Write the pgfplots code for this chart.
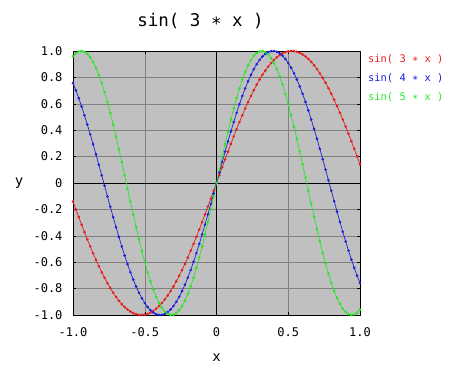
\documentclass[border=0pt]{standalone}
\usepackage{pgfplots}
\pgfplotsset{compat=1.18}
\usepackage{pgfplotstable}
\usepackage{fontspec}
\setmainfont{DejaVu Sans Mono}
\definecolor{bggray}{RGB}{192,192,192}
\definecolor{cred}{RGB}{230,30,30}
\definecolor{cblue}{RGB}{30,30,220}
\definecolor{cgreen}{RGB}{40,230,40}
\pgfplotstableread{
x a b c
-1.00 -0.1411 0.7568 0.9589
-0.98 -0.2002 0.7025 0.9825
-0.96 -0.2586 0.6433 0.9962
-0.94 -0.3161 0.5798 0.9999
-0.92 -0.3724 0.5128 0.9937
-0.90 -0.4274 0.4425 0.9775
-0.88 -0.4809 0.3694 0.9516
-0.86 -0.5325 0.2940 0.9162
-0.84 -0.5823 0.2167 0.8716
-0.82 -0.6300 0.1380 0.8183
-0.80 -0.6755 0.0584 0.7568
-0.78 -0.7185 -0.0216 0.6878
-0.76 -0.7589 -0.1016 0.6119
-0.74 -0.7964 -0.1807 0.5298
-0.72 -0.8312 -0.2586 0.4425
-0.70 -0.8632 -0.3350 0.3508
-0.68 -0.8920 -0.4092 0.2555
-0.66 -0.9174 -0.4809 0.1577
-0.64 -0.9396 -0.5494 0.0584
-0.62 -0.9585 -0.6145 -0.0416
-0.60 -0.9738 -0.6755 -0.1411
-0.58 -0.9857 -0.7322 -0.2392
-0.56 -0.9940 -0.7843 -0.3350
-0.54 -0.9988 -0.8312 -0.4274
-0.52 -0.9999 -0.8731 -0.5155
-0.50 -0.9975 -0.9093 -0.5985
-0.48 -0.9915 -0.9396 -0.6755
-0.46 -0.9819 -0.9640 -0.7457
-0.44 -0.9687 -0.9821 -0.8085
-0.42 -0.9521 -0.9940 -0.8632
-0.40 -0.9320 -0.9996 -0.9093
-0.38 -0.9086 -0.9987 -0.9463
-0.36 -0.8820 -0.9915 -0.9738
-0.34 -0.8521 -0.9779 -0.9917
-0.32 -0.8192 -0.9580 -0.9996
-0.30 -0.7833 -0.9320 -0.9975
-0.28 -0.7446 -0.9001 -0.9854
-0.26 -0.7033 -0.8624 -0.9636
-0.24 -0.6594 -0.8192 -0.9320
-0.22 -0.6131 -0.7707 -0.8912
-0.20 -0.5646 -0.7174 -0.8415
-0.18 -0.5141 -0.6594 -0.7833
-0.16 -0.4618 -0.5972 -0.7174
-0.14 -0.4078 -0.5312 -0.6442
-0.12 -0.3523 -0.4618 -0.5646
-0.10 -0.2955 -0.3894 -0.4794
-0.08 -0.2377 -0.3146 -0.3894
-0.06 -0.1790 -0.2377 -0.2955
-0.04 -0.1197 -0.1593 -0.1987
-0.02 -0.0600 -0.0799 -0.0998
0.00 0.0000 0.0000 0.0000
0.02 0.0600 0.0799 0.0998
0.04 0.1197 0.1593 0.1987
0.06 0.1790 0.2377 0.2955
0.08 0.2377 0.3146 0.3894
0.10 0.2955 0.3894 0.4794
0.12 0.3523 0.4618 0.5646
0.14 0.4078 0.5312 0.6442
0.16 0.4618 0.5972 0.7174
0.18 0.5141 0.6594 0.7833
0.20 0.5646 0.7174 0.8415
0.22 0.6131 0.7707 0.8912
0.24 0.6594 0.8192 0.9320
0.26 0.7033 0.8624 0.9636
0.28 0.7446 0.9001 0.9854
0.30 0.7833 0.9320 0.9975
0.32 0.8192 0.9580 0.9996
0.34 0.8521 0.9779 0.9917
0.36 0.8820 0.9915 0.9738
0.38 0.9086 0.9987 0.9463
0.40 0.9320 0.9996 0.9093
0.42 0.9521 0.9940 0.8632
0.44 0.9687 0.9821 0.8085
0.46 0.9819 0.9640 0.7457
0.48 0.9915 0.9396 0.6755
0.50 0.9975 0.9093 0.5985
0.52 0.9999 0.8731 0.5155
0.54 0.9988 0.8312 0.4274
0.56 0.9940 0.7843 0.3350
0.58 0.9857 0.7322 0.2392
0.60 0.9738 0.6755 0.1411
0.62 0.9585 0.6145 0.0416
0.64 0.9396 0.5494 -0.0584
0.66 0.9174 0.4809 -0.1577
0.68 0.8920 0.4092 -0.2555
0.70 0.8632 0.3350 -0.3508
0.72 0.8312 0.2586 -0.4425
0.74 0.7964 0.1807 -0.5298
0.76 0.7589 0.1016 -0.6119
0.78 0.7185 0.0216 -0.6878
0.80 0.6755 -0.0584 -0.7568
0.82 0.6300 -0.1380 -0.8183
0.84 0.5823 -0.2167 -0.8716
0.86 0.5325 -0.2940 -0.9162
0.88 0.4809 -0.3694 -0.9516
0.90 0.4274 -0.4425 -0.9775
0.92 0.3724 -0.5128 -0.9937
0.94 0.3161 -0.5798 -0.9999
0.96 0.2586 -0.6433 -0.9962
0.98 0.2002 -0.7025 -0.9825
1.00 0.1411 -0.7568 -0.9589
}\data
\begin{document}
\begin{tikzpicture}[x=1pt,y=1pt]
\useasboundingbox (0,0) rectangle (450,380);
\begin{axis}[
  at={(73pt,65pt)}, anchor=south west,
  scale only axis, width=287pt, height=264pt,
  xmin=-1, xmax=1, ymin=-1, ymax=1,
  xtick={-1,-0.5,0.5,1}, xticklabels={-1.0,-0.5,0.5,1.0},
  ytick={-1,-0.8,-0.6,-0.4,-0.2,0.2,0.4,0.6,0.8,1},
  yticklabels={-1.0,-0.8,-0.6,-0.4,-0.2,0.2,0.4,0.6,0.8,1.0},
  extra x ticks={0}, extra x tick labels={0},
  extra y ticks={0}, extra y tick labels={0},
  extra tick style={grid=major, major grid style={black, line width=0.7pt}},
  tick align=inside, major tick length=3pt,
  tick style={black, line width=0.5pt},
  grid=major, major grid style={gray, line width=0.5pt},
  axis line style={black, line width=0.7pt},
  axis background/.style={fill=bggray},
  tick label style={font=\fontsize{12}{13}\selectfont},
  xticklabel style={yshift=-9pt},
  yticklabel style={xshift=-7pt},
  title={sin( 3 ∗ x )},
  title style={font=\fontsize{17.5}{20}\selectfont, at={(axis description cs:0.5,1)}, anchor=center, yshift=24pt, xshift=-16pt},
  xlabel={x}, ylabel={y},
  every axis x label/.style={at={(axis description cs:0.5,0)}, anchor=center, yshift=-43pt, font=\fontsize{14}{16}\selectfont},
  every axis y label/.style={at={(axis description cs:0,0.5)}, anchor=center, xshift=-54pt, font=\fontsize{14}{16}\selectfont},
  legend image code/.code={},
  legend style={at={(axis description cs:1,1)}, anchor=north west, draw=none, fill=none,
    font=\fontsize{10.4}{12}\selectfont, row sep=6pt, inner xsep=0pt, xshift=6pt, yshift=1pt},
  legend cell align=left,
  every axis plot/.append style={line width=0.7pt, mark=*, mark size=0.95pt},
]
\addplot[cred, mark options={fill=cred, draw=cred}] table[x=x,y=a] {\data};
\addlegendentry{\textcolor{cred}{sin( 3 ∗ x )}}
\addplot[cblue, mark options={fill=cblue, draw=cblue}] table[x=x,y=b] {\data};
\addlegendentry{\textcolor{cblue}{sin( 4 ∗ x )}}
\addplot[cgreen, mark options={fill=cgreen, draw=cgreen}] table[x=x,y=c] {\data};
\addlegendentry{\textcolor{cgreen}{sin( 5 ∗ x )}}
\end{axis}
\end{tikzpicture}
\end{document}
